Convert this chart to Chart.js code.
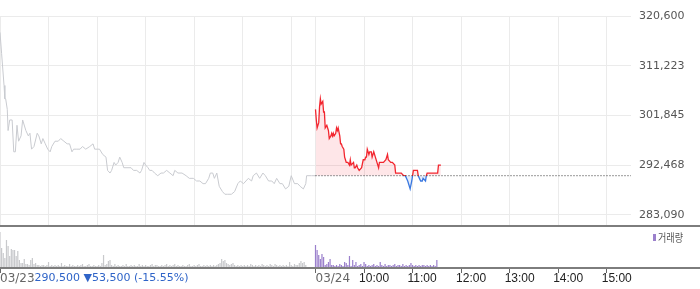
<!DOCTYPE html>
<html>
<head>
<meta charset="utf-8">
<script src="https://cdn.jsdelivr.net/npm/chart.js@4/dist/chart.umd.min.js"></script>
<style>
  html, body { margin: 0; padding: 0; background: #fff; }
  #wrap { position: relative; width: 700px; height: 289px; overflow: hidden; }
  #priceChart { position: absolute; left: 0; top: 0; }
  #volumeChart { position: absolute; left: 0; top: 225px; }
</style>
</head>
<body>
<div id="wrap">
  <canvas id="priceChart" width="700" height="225"></canvas>
  <canvas id="volumeChart" width="700" height="64"></canvas>
</div>
<script>
// chart data
const PREV_CLOSE = 290500;
const DAY_LABELS = ['03/23', '03/24'];
const HOUR_LABELS = ['10:00', '11:00', '12:00', '13:00', '14:00', '15:00'];
const SUMMARY = '290,500 \u25BC53,500 (-15.55%)';
const VOLUME_LABEL = '거래량';
const PRICE_TICKS = [283090, 292467.5, 301845, 311222.5, 320600];

const SESSION = 390; // 09:00 - 15:30, minutes
const GRID_MINUTES = [0, 60, 120, 180, 240, 300, 360, 390, 450, 510, 570, 630, 690, 750];
const AXIS_MINUTES = [0, 390, 450, 510, 570, 630, 690, 750];

// minutes after 09:00 on 03/23
const day1Minutes = [
  0, 2, 5, 6, 7, 9, 10, 12, 15, 17, 19, 21, 23, 26, 28, 32, 35, 37, 39, 42,
  46, 48, 51, 53, 56, 59, 62, 64, 68, 72, 75, 79, 83, 86, 89, 91, 95, 99, 102, 106,
  111, 115, 117, 121, 123, 127, 131, 133, 136, 138, 141, 143, 146, 148, 151, 153, 157, 162, 165, 169,
  173, 175, 178, 180, 183, 185, 188, 191, 195, 199, 202, 206, 210, 214, 216, 220, 225, 230, 234, 239,
  243, 247, 251, 254, 258, 260, 263, 265, 268, 271, 275, 278, 281, 286, 290, 294, 297, 301, 304, 307,
  311, 313, 317, 321, 325, 328, 332, 336, 339, 342, 346, 349, 353, 357, 360, 364, 368, 371, 375, 378,
  379, 385, 390
];
const day1Prices = [
  317500, 313500, 307500, 305000, 305000, 303000, 299000, 301000, 301000, 295000,
  295000, 300000, 297000, 298000, 301000, 299000, 298000, 298500, 295500, 296000,
  298500, 298000, 296500, 297500, 296500, 295500, 295000, 296000, 297000, 297000,
  297500, 297000, 296500, 296500, 295000, 295500, 295500, 295500, 296000, 295500,
  296000, 296500, 295500, 295500, 295500, 294500, 294000, 291500, 291000, 291500,
  293000, 292500, 293000, 294000, 293000, 292000, 292000, 292000, 291500, 291500,
  291000, 291500, 293000, 292500, 292000, 291500, 291500, 291000, 290500, 291000,
  291000, 291500, 291000, 290500, 291500, 291000, 291000, 290500, 290000, 290000,
  289500, 289500, 289000, 289000, 290000, 291000, 291000, 290000, 291000, 288500,
  287500, 287000, 287000, 287000, 287500, 289000, 289500, 289000, 289500, 290000,
  289500, 290500, 291000, 290000, 291000, 290500, 289500, 289500, 289000, 290000,
  289000, 289000, 288000, 288500, 290500, 289000, 289000, 288500, 288000, 289000,
  290500, 290500, 290500
];

// minutes after 09:00 on 03/24
const day2Minutes = [
  0, 1, 2, 4, 5, 6, 7, 9, 10, 11, 12, 14, 15, 16, 17, 19, 20, 21, 22, 23,
  25, 26, 27, 28, 30, 31, 32, 33, 35, 36, 37, 38, 40, 42, 43, 44, 47, 48, 49, 51,
  52, 54, 57, 59, 61, 62, 63, 64, 66, 67, 69, 70, 72, 74, 77, 78, 79, 82, 84, 87,
  89, 90, 93, 95, 98, 99, 101, 104, 106, 109, 111, 114, 116, 117, 119, 120, 121, 124, 126, 127,
  130, 132, 133, 136, 137, 138, 143, 148, 151, 152, 155
];
const day2Prices = [
  303000, 301000, 299500, 300500, 303500, 305000, 304000, 304500, 302500, 302500,
  299500, 300000, 299500, 299000, 297500, 298000, 298500, 298000, 298500, 298000,
  298500, 299500, 299000, 299500, 298000, 296500, 296500, 296000, 295500, 294000,
  293500, 293000, 293000, 292500, 293500, 292500, 293000, 292000, 292000, 292500,
  292000, 291500, 292000, 293500, 293500, 294000, 294000, 295500, 294500, 295000,
  295000, 294000, 295000, 294000, 292500, 292000, 293000, 293000, 293000, 293500,
  294500, 293500, 293000, 293000, 292500, 291000, 291000, 291000, 291000, 290500,
  290500, 289500, 288500, 288000, 289500, 290500, 291500, 291500, 291500, 290500,
  289500, 289500, 290000, 289500, 290500, 291000, 291000, 291000, 291000, 292500,
  292500
];

// volume, one value every 2 minutes
const day1Volume = [
  36, 20, 15, 10, 28, 22, 12, 19, 18, 18, 12, 17, 8, 5, 5, 9, 4, 4, 3, 8,
  10, 4, 5, 3, 3, 2, 3, 3, 2, 3, 6, 2, 3, 2, 3, 2, 3, 2, 5, 2,
  3, 2, 2, 4, 2, 3, 2, 2, 3, 2, 3, 4, 2, 2, 3, 4, 2, 2, 3, 2,
  2, 3, 2, 5, 13, 3, 4, 7, 8, 3, 2, 4, 2, 3, 2, 2, 3, 2, 4, 2,
  2, 3, 2, 3, 2, 2, 4, 2, 3, 2, 3, 2, 2, 3, 4, 2, 3, 3, 2, 2,
  3, 2, 3, 4, 2, 3, 2, 3, 4, 2, 3, 2, 2, 3, 2, 2, 3, 4, 2, 2,
  3, 2, 3, 4, 2, 2, 3, 2, 3, 2, 3, 2, 3, 2, 3, 4, 5, 9, 7, 8,
  5, 4, 3, 4, 5, 3, 2, 3, 2, 3, 2, 3, 2, 3, 2, 4, 3, 2, 3, 2,
  3, 2, 4, 3, 2, 3, 2, 4, 3, 2, 4, 3, 2, 3, 2, 3, 2, 3, 2, 6,
  3, 2, 4, 3, 3, 5, 7, 5, 6, 3
];
const day2Volume = [
  23, 18, 13, 9, 14, 11, 3, 4, 6, 9, 3, 3, 2, 3, 2, 4, 3, 2, 6, 5,
  3, 12, 2, 8, 3, 6, 2, 3, 4, 2, 6, 4, 2, 3, 2, 3, 4, 2, 3, 2,
  6, 3, 2, 4, 2, 3, 3, 2, 3, 4, 2, 3, 3, 2, 4, 2, 3, 2, 3, 5,
  3, 2, 3, 2, 3, 2, 3, 3, 2, 3, 2, 3, 2, 3, 2, 8
];

const RED = '#f2262f';
const BLUE = '#3a78e0';
const GRAY_LINE = '#c9cbd0';
const GRID = '#ebebeb';
const PURPLE = '#9b80cc';
const GRAY_BAR = '#c8c9cc';

const day1Points = day1Minutes.map((m, i) => ({ x: m, y: day1Prices[i] }));
const day2Points = day2Minutes.map((m, i) => ({ x: SESSION + m, y: day2Prices[i] }));
const day1Bars = day1Volume.map((v, i) => ({ x: i * 2, y: v }));
const day2Bars = day2Volume.map((v, i) => ({ x: SESSION + i * 2, y: v }));

function splitColor(ctx) {
  const chart = ctx.chart;
  const area = chart.chartArea;
  if (!area) return RED;
  const yb = chart.scales.y.getPixelForValue(PREV_CLOSE);
  const f = Math.min(1, Math.max(0, (yb - area.top) / (area.bottom - area.top)));
  const g = chart.ctx.createLinearGradient(0, area.top, 0, area.bottom);
  g.addColorStop(0, RED);
  g.addColorStop(f, RED);
  g.addColorStop(f, BLUE);
  g.addColorStop(1, BLUE);
  return g;
}

new Chart(document.getElementById('priceChart'), {
  type: 'line',
  data: {
    datasets: [
      {
        data: [{ x: SESSION, y: PREV_CLOSE }, { x: SESSION * 2, y: PREV_CLOSE }],
        borderColor: '#333',
        borderWidth: 1,
        borderDash: [1, 2],
        pointRadius: 0,
        fill: false,
      },
      {
        data: day2Points,
        borderColor: splitColor,
        borderWidth: 1.3,
        pointRadius: 0,
        fill: {
          target: { value: PREV_CLOSE },
          above: 'rgba(245, 60, 75, 0.13)',
          below: 'rgba(60, 120, 230, 0.13)',
        },
      },
      {
        data: day1Points,
        borderColor: GRAY_LINE,
        borderWidth: 1,
        pointRadius: 0,
        fill: false,
      },
    ],
  },
  options: {
    responsive: false,
    animation: false,
    layout: { padding: { top: 16, right: 0, bottom: 0, left: 0 } },
    plugins: { legend: { display: false }, tooltip: { enabled: false } },
    scales: {
      x: {
        type: 'linear',
        min: 0,
        max: SESSION * 2,
        grid: { color: GRID, drawTicks: false },
        border: { display: false },
        ticks: { display: false },
        afterBuildTicks: (scale) => {
          scale.ticks = GRID_MINUTES.map((v) => ({ value: v }));
        },
        afterFit: (scale) => {
          scale.height = 0;
        },
      },
      y: {
        position: 'right',
        min: 281205,
        max: 320600,
        grid: { color: GRID, drawTicks: false },
        border: { display: false },
        ticks: {
          padding: 8,
          color: '#555',
          font: { family: 'DejaVu Sans', size: 11 },
          callback: (v) => Math.round(v).toLocaleString('en-US'),
        },
        afterBuildTicks: (scale) => {
          scale.ticks = PRICE_TICKS.map((v) => ({ value: v }));
        },
        afterFit: (scale) => {
          scale.width = 69;
          scale.paddingTop = 0;
          scale.paddingBottom = 0;
        },
      },
    },
  },
});

const volumeDecor = {
  id: 'volumeDecor',
  afterDraw(chart) {
    const { ctx, chartArea, scales } = chart;
    const xs = scales.x;
    ctx.save();
    ctx.fillStyle = '#7d7d7d';
    ctx.fillRect(0, 0, chart.width, 2);
    ctx.fillRect(0, chartArea.bottom - 1, chart.width, 2);

    const ty = chartArea.bottom + 10.5;
    ctx.textBaseline = 'middle';
    ctx.textAlign = 'left';
    ctx.font = '12px "DejaVu Sans"';
    ctx.fillStyle = '#666';
    const x0 = xs.getPixelForValue(0);
    ctx.fillText(DAY_LABELS[0], x0, ty);
    const w0 = ctx.measureText(DAY_LABELS[0]).width;
    ctx.fillText(DAY_LABELS[1], xs.getPixelForValue(SESSION), ty);

    ctx.font = '11px "DejaVu Sans"';
    ctx.fillStyle = '#2f64c8';
    ctx.fillText(SUMMARY, x0 + w0, ty);

    ctx.font = '12px "Liberation Sans"';
    ctx.fillStyle = '#222';
    HOUR_LABELS.forEach((label, i) => {
      ctx.fillText(label, xs.getPixelForValue(AXIS_MINUTES[i + 2]) - 5, ty);
    });

    // legend
    ctx.fillStyle = PURPLE;
    ctx.fillRect(chart.width - 47, 9, 3, 7);
    ctx.fillStyle = '#555';
    ctx.font = '11px "Noto Sans CJK KR"';
    ctx.fillText(VOLUME_LABEL, chart.width - 42, 13, 25);
    ctx.restore();
  },
};

new Chart(document.getElementById('volumeChart'), {
  type: 'bar',
  data: {
    datasets: [
      { data: day1Bars, backgroundColor: GRAY_BAR },
      { data: day2Bars, backgroundColor: PURPLE },
    ],
  },
  options: {
    responsive: false,
    animation: false,
    layout: { padding: { top: 4, right: 69, bottom: 0, left: 0 } },
    plugins: { legend: { display: false }, tooltip: { enabled: false } },
    datasets: { bar: { categoryPercentage: 1, barPercentage: 0.75, grouped: false } },
    scales: {
      x: {
        type: 'linear',
        min: 0,
        max: SESSION * 2,
        offset: false,
        grid: { drawOnChartArea: false, drawTicks: true, tickLength: 5, color: '#666', offset: false },
        border: { display: false },
        ticks: { display: false },
        afterBuildTicks: (scale) => {
          scale.ticks = AXIS_MINUTES.map((v) => ({ value: v }));
        },
        afterFit: (scale) => {
          scale.height = 21;
        },
      },
      y: {
        display: false,
        min: 0,
        max: 39,
      },
    },
  },
  plugins: [volumeDecor],
});
</script>
</body>
</html>
